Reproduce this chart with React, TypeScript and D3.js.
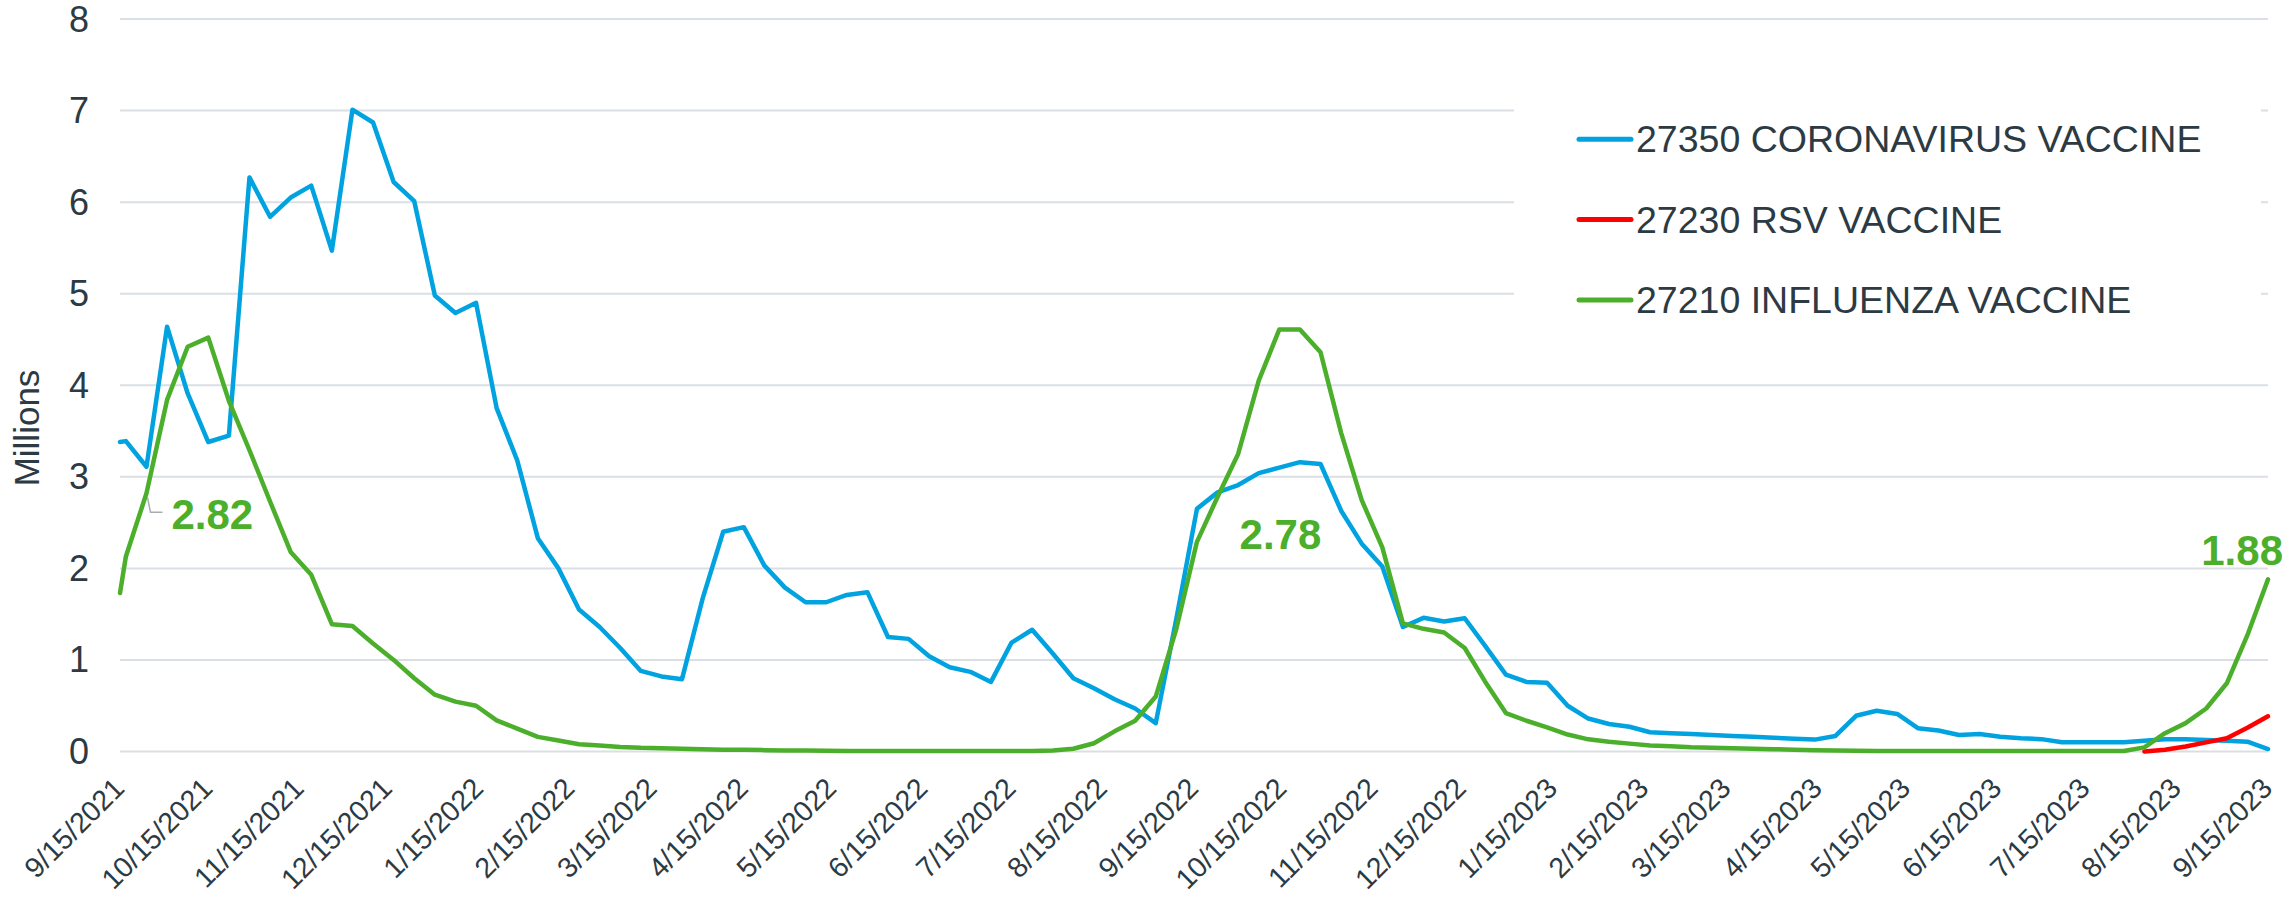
import React from "react";
import * as d3 from "d3";

const dates: string[] = [
  "2021-09-15","2021-09-17","2021-09-24","2021-10-01","2021-10-08","2021-10-15","2021-10-22","2021-10-29",
  "2021-11-05","2021-11-12","2021-11-19","2021-11-26","2021-12-03","2021-12-10","2021-12-17","2021-12-24",
  "2021-12-31","2022-01-07","2022-01-14","2022-01-21","2022-01-28","2022-02-04","2022-02-11","2022-02-18",
  "2022-02-25","2022-03-04","2022-03-11","2022-03-18","2022-03-25","2022-04-01","2022-04-08","2022-04-15",
  "2022-04-22","2022-04-29","2022-05-06","2022-05-13","2022-05-20","2022-05-27","2022-06-03","2022-06-10",
  "2022-06-17","2022-06-24","2022-07-01","2022-07-08","2022-07-15","2022-07-22","2022-07-29","2022-08-05",
  "2022-08-12","2022-08-19","2022-08-26","2022-09-02","2022-09-09","2022-09-16","2022-09-23","2022-09-30",
  "2022-10-07","2022-10-14","2022-10-21","2022-10-28","2022-11-04","2022-11-11","2022-11-18","2022-11-25",
  "2022-12-02","2022-12-09","2022-12-16","2022-12-23","2022-12-30","2023-01-06","2023-01-13","2023-01-20",
  "2023-01-27","2023-02-03","2023-02-10","2023-02-17","2023-02-24","2023-03-03","2023-03-10","2023-03-17",
  "2023-03-24","2023-03-31","2023-04-07","2023-04-14","2023-04-21","2023-04-28","2023-05-05","2023-05-12",
  "2023-05-19","2023-05-26","2023-06-02","2023-06-09","2023-06-16","2023-06-23","2023-06-30","2023-07-07",
  "2023-07-14","2023-07-21","2023-07-28","2023-08-04","2023-08-11","2023-08-18","2023-08-25","2023-09-01",
  "2023-09-08","2023-09-15"
];

// Millions
const coronavirus: number[] = [
  3.38, 3.39, 3.11, 4.64, 3.91, 3.38, 3.45, 6.27, 5.84, 6.05, 6.18, 5.47, 7.01, 6.87, 6.22, 6.01,
  4.98, 4.79, 4.90, 3.75, 3.18, 2.33, 2.00, 1.55, 1.36, 1.13, 0.88, 0.82, 0.79, 1.67, 2.40, 2.45,
  2.03, 1.79, 1.63, 1.63, 1.71, 1.74, 1.25, 1.23, 1.04, 0.92, 0.87, 0.76, 1.19, 1.33, 1.07, 0.80,
  0.69, 0.57, 0.47, 0.31, 1.45, 2.65, 2.83, 2.91, 3.04, 3.10, 3.16, 3.14, 2.63, 2.27, 2.02, 1.36,
  1.46, 1.42, 1.455, 1.15, 0.84, 0.76, 0.75, 0.50, 0.36, 0.30, 0.27, 0.21, 0.20, 0.19, 0.18, 0.17,
  0.16, 0.15, 0.14, 0.13, 0.17, 0.39, 0.445, 0.41, 0.255, 0.23, 0.18, 0.19, 0.16, 0.145, 0.135, 0.10,
  0.10, 0.10, 0.10, 0.118, 0.133, 0.133, 0.125, 0.118, 0.107, 0.027
];

const rsv: (number | null)[] = [
  null, null, null, null, null, null, null, null, null, null, null, null, null, null, null, null,
  null, null, null, null, null, null, null, null, null, null, null, null, null, null, null, null,
  null, null, null, null, null, null, null, null, null, null, null, null, null, null, null, null,
  null, null, null, null, null, null, null, null, null, null, null, null, null, null, null, null,
  null, null, null, null, null, null, null, null, null, null, null, null, null, null, null, null,
  null, null, null, null, null, null, null, null, null, null, null, null, null, null, null, null,
  null, null, null, 0.0, 0.02, 0.055, 0.10, 0.145, 0.26, 0.385
];

const influenza: number[] = [
  1.73, 2.13, 2.82, 3.84, 4.42, 4.52, 3.83, 3.29, 2.73, 2.18, 1.93, 1.39, 1.37, 1.18, 1.00, 0.80,
  0.62, 0.545, 0.50, 0.34, 0.25, 0.16, 0.12, 0.08, 0.065, 0.05, 0.04, 0.035, 0.03, 0.025, 0.02, 0.018,
  0.015, 0.012, 0.01, 0.008, 0.006, 0.005, 0.005, 0.005, 0.005, 0.005, 0.005, 0.005, 0.005, 0.005, 0.01, 0.03,
  0.09, 0.22, 0.335, 0.60, 1.34, 2.29, 2.78, 3.25, 4.05, 4.61, 4.61, 4.36, 3.48, 2.745, 2.23, 1.40,
  1.34, 1.30, 1.13, 0.76, 0.42, 0.336, 0.264, 0.185, 0.133, 0.106, 0.086, 0.066, 0.058, 0.046, 0.04, 0.035,
  0.03, 0.025, 0.02, 0.015, 0.01, 0.008, 0.006, 0.005, 0.005, 0.005, 0.005, 0.005, 0.005, 0.005, 0.005, 0.005,
  0.005, 0.005, 0.005, 0.045, 0.20, 0.31, 0.47, 0.745, 1.27, 1.88
];

const tickLabels: string[] = [
  "9/15/2021","10/15/2021","11/15/2021","12/15/2021","1/15/2022","2/15/2022","3/15/2022","4/15/2022",
  "5/15/2022","6/15/2022","7/15/2022","8/15/2022","9/15/2022","10/15/2022","11/15/2022","12/15/2022",
  "1/15/2023","2/15/2023","3/15/2023","4/15/2023","5/15/2023","6/15/2023","7/15/2023","8/15/2023","9/15/2023"
];

const yTicks: number[] = [0, 1, 2, 3, 4, 5, 6, 7, 8];

const seriesNames: string[] = ["27350 CORONAVIRUS VACCINE", "27230 RSV VACCINE", "27210 INFLUENZA VACCINE"];
const seriesColors: string[] = ["#00A3E0", "#FF0000", "#4BAF2B"];

// data labels on the influenza series (index into dates)
const labelIndices: number[] = [2, 54, 105];
const labelTexts: string[] = ["2.82", "2.78", "1.88"];

const FONT = "'Liberation Sans', Arial, sans-serif";
const TEXT = "#2C3A43";
const GRID = "#D9DFE4";

export default function App() {
  const W = 2288, H = 900;
  const parse = d3.timeParse("%Y-%m-%d");
  const parseTick = d3.timeParse("%m/%d/%Y");
  const dateObjs = dates.map((d) => parse(d) as Date);
  const tickDates = tickLabels.map((t) => parseTick(t) as Date);

  const x = d3.scaleTime().domain([tickDates[0], tickDates[tickDates.length - 1]]).range([120, 2268]);
  const y = d3.scaleLinear().domain([0, 8]).range([751.5, 19]);

  const mk = (vals: (number | null)[]) =>
    d3
      .line<number>()
      .defined((_, i) => vals[i] !== null)
      .x((_, i) => x(dateObjs[i]))
      .y((_, i) => y(vals[i] as number))(vals.map((_, i) => i)) || "";

  const paths = [mk(coronavirus), mk(rsv), mk(influenza)];
  const drawOrder = [0, 1, 2];

  const lp = labelIndices.map((i) => ({ px: x(dateObjs[i]), py: y(influenza[i]) }));

  return (
    <svg width={W} height={H} style={{ position: "absolute", left: 0, top: 0, background: "#fff" }} fontFamily={FONT}>
      <rect x={0} y={0} width={W} height={H} fill="#fff" />
      {yTicks.map((t) => (
        <line key={"g" + t} x1={120} x2={2268} y1={y(t)} y2={y(t)} stroke={GRID} strokeWidth={2} />
      ))}
      {yTicks.map((t) => (
        <text key={"yt" + t} x={89} y={y(t) + 12.5} textAnchor="end" fontSize={36} fill={TEXT}>
          {t}
        </text>
      ))}
      <text transform={`translate(39,428) rotate(-90)`} textAnchor="middle" fontSize={35} fill={TEXT}>
        Millions
      </text>
      {tickDates.map((d, i) => {
        const tx = x(d) + 6;
        const ty = 790;
        return (
          <text key={"xt" + i} transform={`translate(${tx},${ty}) rotate(-45)`} textAnchor="end" fontSize={28.5} fill={TEXT}>
            {tickLabels[i]}
          </text>
        );
      })}
      <rect x={1514} y={40} width={747} height={325} fill="#fff" />
      {drawOrder.map((s) => (
        <path key={"p" + s} d={paths[s]} fill="none" stroke={seriesColors[s]} strokeWidth={4.5} strokeLinejoin="round" strokeLinecap="round" />
      ))}
      <polyline
        points={`${lp[0].px + 1},${lp[0].py + 4} ${lp[0].px + 4},${lp[0].py + 19} ${lp[0].px + 16},${lp[0].py + 19}`}
        fill="none"
        stroke="#A6AEB4"
        strokeWidth={1.5}
      />
      <text x={lp[0].px + 25} y={lp[0].py + 36} fontSize={42} fontWeight="bold" fill={seriesColors[2]}>
        {labelTexts[0]}
      </text>
      <text x={lp[1].px + 22} y={lp[1].py + 52} fontSize={42} fontWeight="bold" fill={seriesColors[2]}>
        {labelTexts[1]}
      </text>
      <text x={lp[2].px + 15} y={lp[2].py - 14} textAnchor="end" fontSize={42} fontWeight="bold" fill={seriesColors[2]}>
        {labelTexts[2]}
      </text>
      {seriesNames.map((n, i) => {
        const cy = 139.3 + i * 80.3;
        return (
          <g key={"lg" + i}>
            <line x1={1579} x2={1631} y1={cy} y2={cy} stroke={seriesColors[i]} strokeWidth={5} strokeLinecap="round" />
            <text x={1636} y={cy + 13} fontSize={37.5} fill={TEXT}>
              {n}
            </text>
          </g>
        );
      })}
    </svg>
  );
}
